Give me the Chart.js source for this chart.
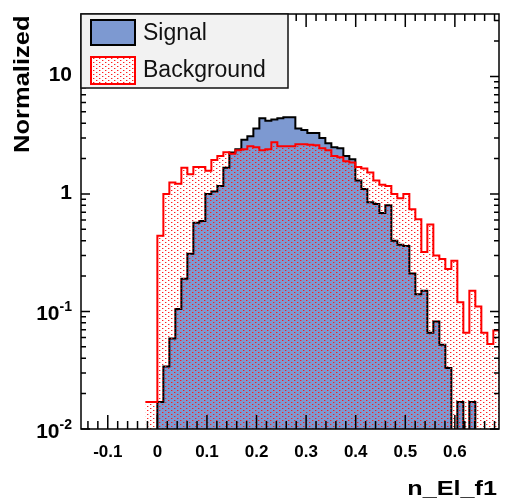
<!DOCTYPE html>
<html>
<head>
<meta charset="utf-8">
<script src="https://cdn.jsdelivr.net/npm/chart.js@4.4.0/dist/chart.umd.min.js"></script>
<style>
  html, body { margin: 0; padding: 0; background: #fff; }
</style>
</head>
<body>
<canvas id="chart" width="507" height="500"></canvas>
<script>
// histogram binning (left edge of first bin, bin width)
const firstEdge = -0.0242;
const binWidth = 0.0121;

// normalized bin contents
const signal = [0, 0,
  0.017, 0.034, 0.059, 0.105, 0.19, 0.31, 0.57, 0.59, 1.0, 1.05,
  1.17, 1.67, 2.25, 2.4, 2.9, 3.1, 3.6, 4.4, 4.2, 4.3,
  4.4, 4.5, 4.5, 3.6, 3.5, 3.3, 3.3, 3.0, 2.7, 2.5,
  2.45, 2.1, 1.97, 1.3, 1.1, 0.85, 0.82, 0.69, 0.8, 0.40,
  0.37, 0.36, 0.21, 0.14, 0.15, 0.066, 0.082, 0.052, 0.033, 0,
  0.017, 0, 0.017, 0, 0, 0, 0];
const background = [0.017, 0.017,
  0.44, 1.0, 1.25, 1.22, 1.67, 1.47, 1.7, 1.7, 1.58, 1.95,
  2.1, 2.27, 2.2, 2.35, 2.4, 2.55, 2.5, 2.35, 2.4, 2.75,
  2.55, 2.55, 2.55, 2.65, 2.65, 2.62, 2.6, 2.45, 2.35, 2.1,
  2.05, 1.9, 1.85, 1.7, 1.65, 1.52, 1.3, 1.2, 1.17, 1.0,
  0.92, 1.0, 0.74, 0.61, 0.32, 0.55, 0.30, 0.28, 0.23, 0.27,
  0.12, 0.066, 0.15, 0.11, 0.066, 0.053, 0.069];

const seriesNames = ["Signal", "Background"];
const xTicks = [-0.1, 0, 0.1, 0.2, 0.3, 0.4, 0.5, 0.6];
const xTickLabels = ["-0.1", "0", "0.1", "0.2", "0.3", "0.4", "0.5", "0.6"];
const yTicks = [0.01, 0.1, 1, 10];
const yTickLabels = [["10", "-2"], ["10", "-1"], ["1", ""], ["10", ""]];
const xTitle = "n_El_f1";
const yTitle = "Normalized";

const sigFill = "#7d99d1";
// empty bins sit below the log axis instead of breaking the line
const EMPTY_FLOOR = 1e-4;

// staggered red dot hatch, like ROOT fill style 3xxx
function dotPattern(bg) {
  const c = document.createElement("canvas");
  c.width = 6; c.height = 4;
  const g = c.getContext("2d");
  if (bg) { g.fillStyle = bg; g.fillRect(0, 0, 6, 4); }
  g.fillStyle = "rgba(255,20,20,0.95)";
  g.fillRect(0, 0, 1, 1);
  g.fillRect(3, 2, 1, 1);
  g.fillStyle = "rgba(255,20,20,0.35)";
  g.fillRect(1, 0, 1, 1);
  g.fillRect(4, 2, 1, 1);
  return g.createPattern(c, "repeat");
}

function toSteps(values) {
  const pts = values.map((v, i) => ({ x: firstEdge + i * binWidth, y: v > 0 ? v : EMPTY_FLOOR }));
  pts.push({ x: firstEdge + values.length * binWidth, y: pts[pts.length - 1].y });
  return pts;
}

function stretched(ctx, text, x, y, sx, align) {
  ctx.save();
  ctx.translate(x, y);
  ctx.scale(sx, 1);
  ctx.textAlign = align;
  ctx.fillText(text, 0, 0);
  ctx.restore();
}

// ROOT style frame, inward ticks, labels and legend
const frame = {
  id: "frame",
  afterDraw(chart) {
    const { ctx, chartArea: a, scales: { x, y } } = chart;
    ctx.save();
    ctx.strokeStyle = "#000";
    ctx.lineWidth = 1.5;

    ctx.beginPath();
    for (let i = -8; i <= 35; i++) {
      const px = x.getPixelForValue(i * 0.02);
      if (px < a.left + 1 || px > a.right - 1) continue;
      const major = i % 5 === 0;
      ctx.moveTo(px, a.bottom); ctx.lineTo(px, a.bottom - (major ? 14 : 8));
      ctx.moveTo(px, a.top); ctx.lineTo(px, a.top + (major ? 13 : 7));
    }
    for (let d = -2; d <= 1; d++) {
      for (let m = 1; m <= 9; m++) {
        const v = m * Math.pow(10, d);
        if (v > y.max) continue;
        const py = y.getPixelForValue(v);
        const len = m === 1 ? 9 : 5;
        ctx.moveTo(a.left, py); ctx.lineTo(a.left + len, py);
        ctx.moveTo(a.right, py); ctx.lineTo(a.right - len, py);
      }
    }
    ctx.stroke();
    ctx.strokeRect(a.left, a.top, a.right - a.left, a.bottom - a.top);

    ctx.fillStyle = "#000";
    ctx.font = "bold 17px 'Liberation Sans', Arial, sans-serif";
    ctx.textBaseline = "alphabetic";
    ctx.textAlign = "center";
    xTicks.forEach((v, i) => ctx.fillText(xTickLabels[i], x.getPixelForValue(v), 457));

    ctx.textBaseline = "middle";
    yTicks.forEach((v, i) => {
      const py = y.getPixelForValue(v);
      const [base, exp] = yTickLabels[i];
      ctx.textAlign = "right";
      if (exp) {
        ctx.font = "bold 14px 'Liberation Sans', Arial, sans-serif";
        const w = ctx.measureText(exp).width;
        ctx.fillText(exp, 72, py - 4);
        ctx.font = "bold 21px 'Liberation Sans', Arial, sans-serif";
        ctx.fillText(base, 72 - w, py + 3);
      } else {
        ctx.font = "bold 21px 'Liberation Sans', Arial, sans-serif";
        ctx.fillText(base, 72, py - 1);
      }
    });

    ctx.textBaseline = "alphabetic";
    ctx.font = "bold 21px 'Liberation Sans', Arial, sans-serif";
    stretched(ctx, xTitle, 497, 495, 1.2, "right");
    ctx.save();
    ctx.translate(28.5, 153);
    ctx.rotate(-Math.PI / 2);
    ctx.font = "bold 22px 'Liberation Sans', Arial, sans-serif";
    stretched(ctx, yTitle, 0, 0, 1.16, "left");
    ctx.restore();

    // legend
    ctx.fillStyle = "#f2f2f2";
    ctx.fillRect(a.left, a.top, 207, 74);
    ctx.strokeStyle = "#111";
    ctx.lineWidth = 1.5;
    ctx.strokeRect(a.left, a.top, 207, 74);

    ctx.lineWidth = 2;
    ctx.fillStyle = sigFill;
    ctx.fillRect(91, 20, 44, 25);
    ctx.strokeStyle = "#000";
    ctx.strokeRect(91, 20, 44, 25);

    ctx.fillStyle = "#fff";
    ctx.fillRect(91, 57, 44, 27);
    ctx.fillStyle = dotPattern();
    ctx.fillRect(91, 57, 44, 27);
    ctx.strokeStyle = "#ff0000";
    ctx.strokeRect(91, 57, 44, 27);

    ctx.fillStyle = "#111";
    ctx.font = "23px 'Liberation Sans', Arial, sans-serif";
    ctx.textAlign = "left";
    ctx.fillText(seriesNames[0], 143, 40);
    ctx.fillText(seriesNames[1], 143, 77);
    ctx.restore();
  }
};

const ctx = document.getElementById("chart").getContext("2d");
new Chart(ctx, {
  type: "line",
  data: {
    datasets: [{
      label: seriesNames[0],
      data: toSteps(signal),
      stepped: "before",
      borderColor: "#000",
      borderWidth: 2,
      backgroundColor: sigFill,
      fill: "start",
      pointRadius: 0,
      order: 2
    }, {
      label: seriesNames[1],
      data: toSteps(background),
      stepped: "before",
      borderColor: "#ff0000",
      borderWidth: 2,
      backgroundColor: dotPattern(),
      fill: "start",
      pointRadius: 0,
      order: 1
    }]
  },
  options: {
    responsive: false,
    animation: false,
    devicePixelRatio: 1,
    layout: { padding: { left: 81, top: 14, right: 8, bottom: 71 } },
    plugins: { legend: { display: false }, tooltip: { enabled: false } },
    scales: {
      x: { type: "linear", min: -0.154, max: 0.689, display: false },
      y: { type: "logarithmic", min: 0.01, max: 34, display: false }
    }
  },
  plugins: [frame]
});
</script>
</body>
</html>
